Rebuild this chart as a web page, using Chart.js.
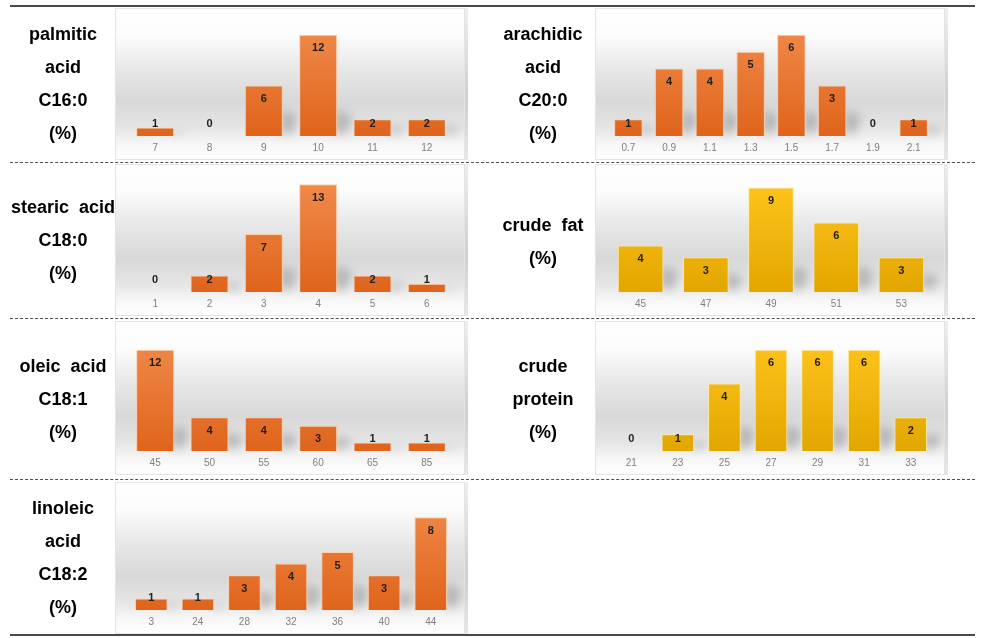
<!DOCTYPE html>
<html><head><meta charset="utf-8">
<script src="https://cdn.jsdelivr.net/npm/chart.js@4/dist/chart.umd.min.js"></script>
<style>
body{margin:0;background:#fff;width:984px;height:638px;position:relative;overflow:hidden;font-family:"Liberation Sans",Arial,sans-serif}
.hl{position:absolute;left:10px;width:965px;height:0}
.solid{border-top:2px solid #4a4a4a}
.dash{border-top:1px dashed #505050}
.lab{position:absolute;font-weight:bold;font-size:18px;color:#000;text-align:center;width:150px;line-height:33px;white-space:pre}
.panel{position:absolute;width:353px}
.panel canvas{position:absolute;left:0;top:0}
</style></head>
<body>
<div class="hl solid" style="top:5px"></div>
<div class="hl dash" style="top:162px"></div>
<div class="hl dash" style="top:318px"></div>
<div class="hl dash" style="top:479px"></div>
<div class="hl solid" style="top:634px"></div>
<script>
// ---- data ----
const palmiticCats = ['7','8','9','10','11','12'];
const palmiticVals = [1,0,6,12,2,2];
const arachidicCats = ['0.7','0.9','1.1','1.3','1.5','1.7','1.9','2.1'];
const arachidicVals = [1,4,4,5,6,3,0,1];
const stearicCats = ['1','2','3','4','5','6'];
const stearicVals = [0,2,7,13,2,1];
const crudeFatCats = ['45','47','49','51','53'];
const crudeFatVals = [4,3,9,6,3];
const oleicCats = ['45','50','55','60','65','85'];
const oleicVals = [12,4,4,3,1,1];
const crudeProteinCats = ['21','23','25','27','29','31','33'];
const crudeProteinVals = [0,1,4,6,6,6,2];
const linoleicCats = ['3','24','28','32','36','40','44'];
const linoleicVals = [1,1,3,4,5,3,8];
const titles = {
  palmitic: 'palmitic\nacid\nC16:0\n(%)',
  arachidic: 'arachidic\nacid\nC20:0\n(%)',
  stearic: 'stearic  acid\nC18:0\n(%)',
  crudeFat: 'crude  fat\n(%)',
  oleic: 'oleic  acid\nC18:1\n(%)',
  crudeProtein: 'crude\nprotein\n(%)',
  linoleic: 'linoleic\nacid\nC18:2\n(%)'
};

// ---- plugins ----
const panelBg = {
  id:'panelBg',
  beforeDraw(chart){
    const {ctx,width,height}=chart;
    const g=ctx.createLinearGradient(0,0,0,height);
    g.addColorStop(0,'#ffffff');
    g.addColorStop(0.18,'#fcfcfc');
    g.addColorStop(0.42,'#e6e6e6');
    g.addColorStop(0.62,'#d8d8d8');
    g.addColorStop(0.78,'#e4e4e4');
    g.addColorStop(0.9,'#f7f7f7');
    g.addColorStop(1,'#ffffff');
    ctx.save();
    ctx.fillStyle=g; ctx.fillRect(0,0,width,height);
    ctx.strokeStyle='#e4e4e4'; ctx.lineWidth=1; ctx.strokeRect(0.5,0.5,width-4,height-1);
    const g2=ctx.createLinearGradient(0,0,0,height);
    g2.addColorStop(0,'#eeeeee'); g2.addColorStop(0.6,'#cfcfcf'); g2.addColorStop(1,'#e8e8e8');
    ctx.fillStyle=g2; ctx.fillRect(width-3,0,3,height);
    ctx.restore();
  }
};
const barShadow = {
  id:'barShadow',
  beforeDatasetsDraw(chart){
    const ctx=chart.ctx; const base=chart.scales.y.getPixelForValue(0);
    const meta=chart.getDatasetMeta(0);
    ctx.save();
    ctx.filter='blur(5px)';
    ctx.fillStyle='rgba(70,70,70,0.28)';
    meta.data.forEach(bar=>{
      const h=base-bar.y; if(h<=0) return;
      const right=bar.x+bar.width/2;
      const sh=Math.min(h*0.55,26);
      ctx.beginPath();
      ctx.moveTo(right-2,base-2);
      ctx.lineTo(right-2,base-sh);
      ctx.lineTo(right+14,base-sh*0.8);
      ctx.lineTo(right+10,base-3);
      ctx.closePath(); ctx.fill();
    });
    ctx.restore();
  }
};
const valueLabels = {
  id:'valueLabels',
  afterDatasetsDraw(chart){
    const ctx=chart.ctx; const meta=chart.getDatasetMeta(0);
    const base=chart.scales.y.getPixelForValue(0);
    ctx.save();
    ctx.font='bold 11px "Liberation Sans", Arial, sans-serif';
    ctx.fillStyle='#1e1e1e'; ctx.textAlign='center'; ctx.textBaseline='middle';
    meta.data.forEach((bar,i)=>{
      const v=chart.data.datasets[0].data[i];
      const y=Math.min(bar.y+13.5, base-12);
      ctx.fillText(String(v), bar.x, y);
    });
    ctx.restore();
  }
};

const palettes = {
  orange:{top:'#f28c4c',bottom:'#df641c',border:'rgba(255,205,165,0.95)'},
  gold:{top:'#ffc61e',bottom:'#e3a600',border:'rgba(255,236,160,0.95)'}
};

function makeChart(key, cats, vals, yMax, color, left, top, height, padTop){
  const wrap=document.createElement('div');
  wrap.className='panel';
  wrap.style.left=left+'px'; wrap.style.top=top+'px'; wrap.style.height=height+'px';
  const cv=document.createElement('canvas');
  cv.width=353; cv.height=height;
  cv.style.width='353px'; cv.style.height=height+'px';
  wrap.appendChild(cv);
  document.body.appendChild(wrap);
  const pal=palettes[color];
  new Chart(cv.getContext('2d'),{
    type:'bar',
    data:{labels:cats,datasets:[{
      data:vals,
      backgroundColor(c){
        const a=c.chart.chartArea; if(!a) return pal.top;
        const g=c.chart.ctx.createLinearGradient(0,a.top,0,a.bottom);
        g.addColorStop(0,pal.top); g.addColorStop(1,pal.bottom); return g;
      },
      borderColor:pal.border, borderWidth:1,
      categoryPercentage:1, barPercentage:0.7
    }]},
    options:{
      responsive:false, animation:false, devicePixelRatio:1,
      layout:{padding:{top:padTop,left:13,right:14,bottom:0}},
      plugins:{legend:{display:false},tooltip:{enabled:false}},
      scales:{
        x:{grid:{display:false,drawTicks:false},border:{display:false},
           ticks:{color:'#808080',font:{size:10,family:'"Liberation Sans", Arial, sans-serif'},padding:6,maxRotation:0,autoSkip:false},
           afterFit(s){s.height=24;}},
        y:{display:false,min:0,max:yMax}
      }
    },
    plugins:[panelBg,barShadow,valueLabels]
  });
}
function makeTitle(text, cx, firstLineCenter){
  const d=document.createElement('div');
  d.className='lab'; d.textContent=text;
  d.style.left=(cx-75)+'px'; d.style.top=(firstLineCenter-16.5)+'px';
  document.body.appendChild(d);
}

makeChart('palmitic', palmiticCats, palmiticVals, 14, 'orange', 115, 8, 152, 10);
makeChart('arachidic', arachidicCats, arachidicVals, 7, 'orange', 595, 8, 152, 10);
makeChart('stearic', stearicCats, stearicVals, 14, 'orange', 115, 164, 152, 12);
makeChart('crudeFat', crudeFatCats, crudeFatVals, 10, 'gold', 595, 164, 152, 12);
makeChart('oleic', oleicCats, oleicVals, 14, 'orange', 115, 321, 154, 12);
makeChart('crudeProtein', crudeProteinCats, crudeProteinVals, 7, 'gold', 595, 321, 154, 12);
makeChart('linoleic', linoleicCats, linoleicVals, 10, 'orange', 115, 482, 152, 12);

makeTitle(titles.palmitic, 63, 34);
makeTitle(titles.arachidic, 543, 34);
makeTitle(titles.stearic, 63, 207);
makeTitle(titles.crudeFat, 543, 225);
makeTitle(titles.oleic, 63, 366);
makeTitle(titles.crudeProtein, 543, 366);
makeTitle(titles.linoleic, 63, 508);
</script>
</body></html>
